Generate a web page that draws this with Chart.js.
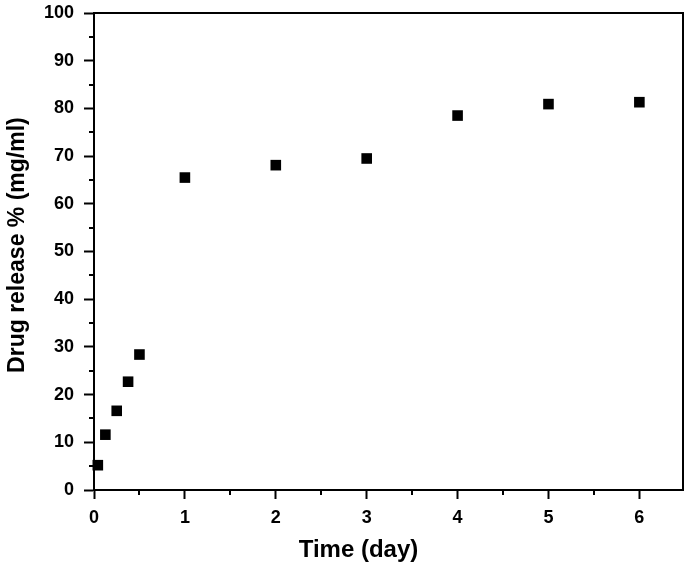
<!DOCTYPE html>
<html>
<head>
<meta charset="utf-8">
<script src="https://cdn.jsdelivr.net/npm/chart.js@4.4.0/dist/chart.umd.min.js"></script>
<style>
  html, body { margin: 0; padding: 0; background: #fff; }
  #chart { display: block; }
</style>
</head>
<body>
<canvas id="chart" width="685" height="570"></canvas>
<script>
// data (time in days, release in %)
const timeDays = [0.042, 0.125, 0.25, 0.375, 0.5, 1, 2, 3, 4, 5, 6];
const releasePct = [5.2, 11.6, 16.6, 22.7, 28.4, 65.5, 68.1, 69.5, 78.5, 80.9, 81.3];
const xMajorTicks = [0, 1, 2, 3, 4, 5, 6];
const yMajorTicks = [0, 10, 20, 30, 40, 50, 60, 70, 80, 90, 100];

const FONT = '"Liberation Sans", Arial, sans-serif';
const NBSP = '\u00A0';

const points = timeDays.map((t, i) => ({ x: t, y: releasePct[i] }));

const isMajor = (list, v) => list.some(m => Math.abs(m - v) < 1e-6);

// minor ticks + top/right frame
const framePlugin = {
  id: 'frame',
  afterDraw(chart) {
    const { ctx, chartArea: a, scales } = chart;
    ctx.save();
    ctx.strokeStyle = '#000';
    ctx.lineWidth = 2;
    ctx.beginPath();
    ctx.moveTo(a.left, a.top);
    ctx.lineTo(a.right, a.top);
    ctx.lineTo(a.right, a.bottom);
    ctx.stroke();

    ctx.beginPath();
    scales.x.ticks.forEach(t => {
      if (isMajor(xMajorTicks, t.value)) return;
      const px = Math.round(scales.x.getPixelForValue(t.value));
      if (px >= a.right - 1) return;
      ctx.moveTo(px, a.bottom);
      ctx.lineTo(px, a.bottom + 5);
    });
    scales.y.ticks.forEach(t => {
      if (isMajor(yMajorTicks, t.value)) return;
      const py = Math.round(scales.y.getPixelForValue(t.value));
      ctx.moveTo(a.left, py);
      ctx.lineTo(a.left - 5, py);
    });
    ctx.stroke();
    ctx.restore();
  }
};

new Chart(document.getElementById('chart'), {
  type: 'scatter',
  data: {
    datasets: [{
      data: points,
      pointStyle: 'rect',
      pointRadius: 7.5,
      pointHoverRadius: 7.5,
      backgroundColor: '#000',
      borderWidth: 0,
      clip: false
    }]
  },
  options: {
    responsive: false,
    animation: false,
    events: [],
    layout: { autoPadding: false, padding: { top: 13, right: 2, left: 0, bottom: 0 } },
    plugins: { legend: { display: false }, tooltip: { enabled: false } },
    scales: {
      x: {
        type: 'linear',
        min: 0,
        max: 6.48,
        afterFit(scale) {
          scale.height = 80;
          scale.paddingLeft = 0;
          scale.paddingRight = 0;
        },
        border: { display: true, color: '#000', width: 2 },
        grid: {
          drawOnChartArea: false,
          drawTicks: true,
          tickLength: 9,
          tickWidth: 2,
          tickColor: c => (c.tick && isMajor(xMajorTicks, c.tick.value)) ? '#000' : 'rgba(0,0,0,0)'
        },
        ticks: {
          stepSize: 0.5,
          includeBounds: false,
          autoSkip: false,
          maxRotation: 0,
          padding: 8,
          color: '#000',
          font: { family: FONT, size: 18, weight: 'bold' },
          callback: v => isMajor(xMajorTicks, v) ? String(v) : ''
        },
        title: {
          display: true,
          // trailing spaces pull the centred title left, as in the original
          text: 'Time (day)' + NBSP.repeat(9),
          color: '#000',
          font: { family: FONT, size: 24, weight: 'bold' },
          padding: { top: 0, bottom: 5 }
        }
      },
      y: {
        type: 'linear',
        min: 0,
        max: 100,
        afterFit(scale) {
          scale.width = 94;
          scale.paddingTop = 0;
          scale.paddingBottom = 0;
        },
        border: { display: true, color: '#000', width: 2 },
        grid: {
          drawOnChartArea: false,
          drawTicks: true,
          tickLength: 10,
          tickWidth: 2,
          tickColor: c => (c.tick && isMajor(yMajorTicks, c.tick.value)) ? '#000' : 'rgba(0,0,0,0)'
        },
        ticks: {
          stepSize: 5,
          autoSkip: false,
          padding: 10,
          color: '#000',
          font: { family: FONT, size: 18, weight: 'bold' },
          callback: v => isMajor(yMajorTicks, v) ? String(v) : ''
        },
        title: {
          display: true,
          text: NBSP.repeat(2) + 'Drug release % (mg/ml)',
          color: '#000',
          font: { family: FONT, size: 23, weight: 'bold' },
          padding: { top: 4, bottom: 0 }
        }
      }
    }
  },
  plugins: [framePlugin]
});
</script>
</body>
</html>
